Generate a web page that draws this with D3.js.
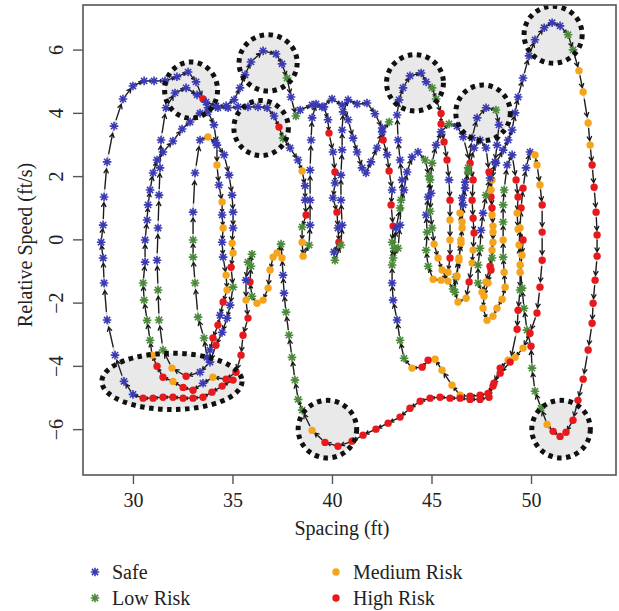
<!DOCTYPE html>
<html><head><meta charset="utf-8">
<script src="https://cdn.jsdelivr.net/npm/d3@7/dist/d3.min.js"></script>
<style>
html,body{margin:0;padding:0;background:#fff;}
svg text{font-family:"Liberation Serif","DejaVu Serif",serif;fill:#222;}
</style></head><body>
<svg id="chart" width="619" height="611"></svg>
<script>
// ---------- DATA ----------
const xTicks = [30, 35, 40, 45, 50];
const yTicks = [-6, -4, -2, 0, 2, 4, 6];
const riskCodes = ["S", "L", "M", "H"];
const riskNames = ["Safe", "Low Risk", "Medium Risk", "High Risk"];

const lap1Spacing = [
35.03,34.48,33.97,33.52,33.02,32.52,32.01,31.51,31.01,30.51,
30.00,29.55,29.10,28.70,28.55,28.50,28.40,28.50,28.55,28.70,
29.05,29.50,30.00,30.56,31.06,31.61,32.21,32.77,33.17,33.52,
33.77,34.27,34.78,35.28,35.78,36.28,36.74,37.09,37.34,37.54,
37.89,38.29,38.50,38.65,38.65,38.70,38.50,38.50,38.55,38.85,
38.90,38.90,38.90,38.95,39.00,39.20,39.60,39.80,39.85,40.05,
40.15,40.15,40.05,40.25,40.30,40.35,40.10,40.15,40.45,40.51,
40.45,40.45,40.51,40.51,40.56,40.81,41.26,41.76,42.16,42.52,
42.57,42.77,42.87,43.02,42.97,43.07,43.02,43.07,43.32,43.42,
43.47,43.52,43.42,43.32,43.27,43.37,43.57,43.92,44.48,44.73,
45.03,45.23,45.48,45.48,45.63,45.78,45.88,45.93,45.93,45.93,
45.93,45.83,45.48,45.08,44.83,44.73,44.78,44.73,44.83,44.93,
45.03,45.23,45.48,45.88,46.28,46.59,46.94,47.09,47.04,47.09,
47.14,47.09,47.04,46.89,46.74,46.33,46.18,46.23,46.38,46.48,
46.54,46.43,46.54,46.69,46.84,47.04,47.29,47.74,48.24,48.39,48.29,48.19,48.04,
47.99,48.04,48.09,48.04,47.94,47.74,47.54,47.34,47.34,47.44,
47.49,47.59,47.74,47.94,48.24,48.60,48.85,49.05,49.20,49.35,
49.60,49.90,50.20,50.66,51.06,51.46,51.86,52.11,52.41,52.62,
52.87,52.97,53.07,53.17,53.27,53.32,53.32,53.22,53.12,53.07,
52.87,52.62,52.36,52.11,51.76,51.46,51.11,50.81,50.51,50.20,
50.05,50.00,49.80,49.65,49.55,49.45,49.40,49.45,49.50,49.60,
49.75,49.95,50.20,50.30,50.45,50.56,50.56,50.56,50.45,50.30,
49.95,49.60,49.20,48.85,48.45,48.14,47.84,47.44,46.94,46.44,
46.03,45.53,45.18,44.83,44.53,44.02,43.62,43.42,43.27,43.07,
43.02,43.02];
const lap1Speed = [
-4.45,-4.64,-4.83,-4.99,-5.02,-5.02,-4.99,-4.99,-5.02,-5.02,
-4.90,-4.49,-3.66,-2.55,-1.38,-0.59,-0.09,0.45,1.34,2.45,
3.58,4.44,4.85,5.01,5.01,5.01,5.14,5.29,4.98,4.44,
4.16,4.16,4.16,4.19,4.19,4.19,4.16,3.90,3.55,3.20,
2.89,2.51,2.16,1.69,1.24,0.77,0.39,-0.09,-0.53,-0.18,
0.45,1.24,2.19,3.14,3.84,4.28,4.19,3.78,3.36,2.76,
2.13,1.78,1.31,0.86,0.36,-0.09,-0.40,-0.66,-0.18,0.45,
1.24,2.03,2.83,3.46,4.03,4.41,4.28,4.31,3.97,3.52,
3.14,2.67,2.16,1.56,1.09,0.42,-0.09,-0.59,-0.28,0.45,
1.24,1.88,2.51,3.14,3.93,4.41,4.79,5.17,5.26,4.98,
4.79,4.44,3.98,3.65,3.08,2.51,1.88,1.24,0.61,-0.02,
-0.59,-1.04,-1.29,-1.26,-0.85,-0.34,0.23,0.77,1.34,1.88,
2.41,2.98,3.40,3.65,3.58,3.24,2.41,1.88,1.24,0.67,
0.20,-0.34,-0.75,-1.35,-1.86,-1.98,-1.67,-1.19,-0.66,-0.12,
0.36,0.83,1.31,1.81,2.26,3.21,3.84,4.16,4.09,3.62,2.98,2.45,1.88,
1.34,0.77,0.23,-0.34,-0.85,-1.35,-1.67,-1.38,-0.81,-0.28,
0.29,0.83,1.40,1.94,2.41,2.82,3.14,3.46,4.00,4.50,
5.10,5.80,6.31,6.69,6.85,6.75,6.47,5.99,5.33,4.66,
3.68,2.98,2.35,1.65,0.86,0.14,-0.53,-1.29,-2.02,-2.65,
-3.50,-4.42,-5.09,-5.72,-6.10,-6.23,-6.07,-5.85,-5.34,-4.80,
-4.07,-3.38,-2.87,-2.18,-1.54,-0.81,-0.18,0.36,0.99,1.62,
2.26,2.76,2.67,2.35,1.72,1.09,0.23,-0.66,-1.51,-2.33,
-2.97,-3.44,-3.73,-3.82,-4.07,-4.55,-4.87,-4.93,-4.96,-4.93,
-4.61,-4.14,-3.79,-3.82,-4.04,-4.07,-3.76,-3.19,-2.55,-1.92,
-1.38,-0.81];
const lap1Risk = (
"HHHHHHHHHH"+"SSSSSSSSSS"+"SSSSSSSSSH"+"SSSSSSSSHL"+"SSMSSHLMML"+
"SSSSSSSSHS"+"HSSHSHSLLS"+"SSSSSSSSSS"+"HSHSHHLLLS"+"LSSSSSSSSS"+
"LLHHHHSHMM"+"HMMMLLLSSL"+"LSSLSSHHHH"+"HMMHMMLLMM"+"MMSSL"+"SSSLSSS"+"M"+
"HMMMHMMLLL"+"SSLSSSSSSS"+"SSSSSSLLMM"+"MMHHHHHHHH"+"HHHHHHHMLL"+
"LHLLLMMMHH"+"SSMMMHHHHH"+"HMMMHHHHHM"+"MMMHHMLLSS"+"SL").split("");

const lap2Spacing = [
43.12,43.22,43.42,43.62,43.77,44.02,44.32,44.68,44.88,44.98,
44.93,45.03,45.13,45.33,45.53,45.83,46.08,46.28,46.38,46.48,
46.54,46.59,46.69,46.84,47.14,47.44,47.74,47.89,47.99,48.04,
48.09,48.09,48.04,47.99,47.84,47.64,47.59,47.79,48.09,48.29,
48.55,48.70,48.65,48.60,48.60,48.60,48.60,48.65,48.80,49.05,
49.25,49.35,49.30,49.35,49.60,49.55,49.45,49.45,49.35,49.30,
48.95,48.45,48.09,47.89,47.44,46.94,46.44,45.93,45.43,44.93,
44.43,43.92,43.42,42.82,42.21,41.56,41.01,40.30,39.65,39.00,
38.50,38.30,38.14,37.99,37.84,37.69,37.59,37.54,37.49,37.44,
37.24,37.04,36.89,36.79,36.54,36.23,35.98,35.88,35.93,35.98,
35.78,35.68,35.68,35.78,35.53,35.43,35.18,34.68];
const lap2Speed = [
-0.28,0.36,0.99,1.56,2.13,2.60,2.76,2.51,2.00,1.46,
0.89,0.36,-0.15,-0.59,-0.97,-1.32,-1.57,-1.16,-0.59,-0.02,
0.55,1.09,1.62,2.13,2.89,3.14,2.89,2.13,1.56,0.99,
0.42,-0.09,-0.59,-0.97,-1.38,-1.80,-2.18,-2.56,-2.43,-2.18,
-1.89,-1.51,-1.04,-0.56,-0.02,0.55,1.09,1.56,2.35,2.67,
1.88,1.34,0.83,0.32,-0.02,-0.50,-1.04,-1.60,-2.24,-2.84,
-3.88,-4.23,-4.64,-4.99,-5.06,-5.06,-5.02,-5.02,-4.99,-5.02,
-5.12,-5.34,-5.62,-5.81,-6.00,-6.19,-6.38,-6.54,-6.42,-6.04,
-5.40,-5.06,-4.45,-3.73,-3.03,-2.30,-1.70,-1.13,-0.59,-0.15,
-0.43,-0.56,-0.97,-1.54,-1.92,-2.02,-1.80,-1.35,-0.85,-0.47,
-0.72,-1.29,-1.92,-2.49,-3.03,-3.66,-4.20,-4.42];
const lap2Risk = (
"LSLSSSSLLS"+"LLMMMMLMMM"+"MSSLSSSHMH"+"MMLHMMMMMM"+"MMMLMLLLSS"+
"HHMMHMMLHH"+"HHHHHHHHHH"+"HHHHHHHHHM"+"LLLLLLSSML"+"MMMMMMLHLL"+
"LSMHHHHH").split("");

const lap3Spacing = [
34.02,33.52,33.02,32.52,32.01,31.51,31.21,30.96,30.86,30.71,
30.56,30.51,30.61,30.61,30.71,30.76,30.86,31.01,31.21,31.51,
32.01,32.47,32.87,33.37,33.77,34.07,34.22,34.22,34.32,34.48,
34.48,34.53,34.48,34.53,34.68,34.73,34.53,34.38,34.27,34.02,
33.87,33.72,33.57,33.27,33.12,33.02,33.02,33.02,33.12,33.37,
33.77,34.17,34.58,34.83,34.98,35.03,35.03,34.98,35.03,34.93,
35.03,34.88,34.73,34.48,34.17,33.87];
const lap3Speed = [
-4.36,-4.55,-4.77,-4.68,-4.49,-4.36,-4.01,-3.66,-3.19,-2.56,
-1.92,-1.38,-0.72,-0.02,0.61,1.09,1.56,2.10,2.51,2.76,
3.11,3.49,3.71,3.99,4.03,3.62,2.98,2.35,1.72,1.18,
0.77,0.36,-0.09,-0.56,-1.13,-1.60,-1.98,-2.40,-2.71,-3.12,
-3.50,-3.73,-3.12,-2.46,-1.38,-0.56,-0.02,0.86,2.10,3.14,
3.24,3.05,2.67,2.03,1.40,0.86,0.36,-0.12,-0.43,-0.88,
-1.51,-2.08,-2.49,-2.94,-3.35,-3.88];
const lap3Risk = (
"MSHHMHHMLL"+"LLSSSSSSSS"+"SSSSSSSMSM"+"SMSSMMHSHH"+"SSLLLLLSSS"+
"MSSSSSSMMH"+"LSSSHS").split("");

const lap4Spacing = [
33.37,32.67,31.96,31.51,31.31,31.26,31.21,31.26,31.31,31.36,
31.41,31.66,32.11,32.67,33.22,33.67,34.17,34.68,35.08,35.38,
35.63,35.93,36.54,37.19,37.49,37.74,37.94,38.19,38.40,39.00,
39.50,40.00,40.51,40.81,41.06,41.26,41.51,41.71,41.96,42.26,
42.52,42.87];
const lap4Speed = [
-4.20,-4.33,-4.07,-3.50,-2.55,-1.60,-0.66,0.36,1.40,2.26,
3.14,4.16,4.63,4.79,4.57,4.34,4.22,4.22,4.41,4.79,
5.20,5.61,5.96,5.86,5.55,5.10,4.50,3.90,4.09,4.25,
4.19,4.44,4.25,3.78,3.20,2.76,2.26,2.10,2.45,2.89,
3.40,3.71];
const lap4Risk = ("SHMLLLSSSS"+"SSSSSSSSSS"+"SSSSSLSLS"+"SSSSSSSSSSSSL").split("");

// highlighted regions (centre and radius in data units)
const hlSpacing = [32.92, 36.79, 36.44, 44.17, 47.59, 51.11, 31.96, 39.77, 51.51];
const hlSpeed   = [4.72, 5.58, 3.52, 4.95, 4.00, 6.47, -4.49, -6.00, -6.00];
const hlRadiusFt    = [1.33, 1.46, 1.37, 1.43, 1.37, 1.46, 3.52, 1.47, 1.47];
const hlRadiusSpeed = [0.89, 0.89, 0.87, 0.89, 0.88, 0.90, 0.89, 0.91, 0.91];

// ---------- DRAW ----------
const plot = {left: 83, right: 616, top: 5, bottom: 475};
const x = d3.scaleLinear().domain([27.49, 54.27]).range([plot.left, plot.right]);
const y = d3.scaleLinear().domain([-7.45, 7.41]).range([plot.bottom, plot.top]);
const color = {S: "#3a3ab4", L: "#4a8a3a", M: "#f5a51c", H: "#e8191c"};

const pts = [];
[[lap1Spacing, lap1Speed, lap1Risk], [lap2Spacing, lap2Speed, lap2Risk],
 [lap3Spacing, lap3Speed, lap3Risk], [lap4Spacing, lap4Speed, lap4Risk]]
  .forEach(([sx, sy, rk]) => sx.forEach((v, i) => pts.push({x: v, y: sy[i], r: rk[i]})));

const svg = d3.select("#chart");
svg.append("rect").attr("width", 619).attr("height", 611).attr("fill", "#fff");
svg.append("defs").append("clipPath").attr("id", "clip").append("rect")
  .attr("x", plot.left).attr("y", plot.top)
  .attr("width", plot.right - plot.left).attr("height", plot.bottom - plot.top);

const g = svg.append("g").attr("clip-path", "url(#clip)");
const hl = hlSpacing.map((v, i) => ({x: v, y: hlSpeed[i], rx: hlRadiusFt[i], ry: hlRadiusSpeed[i]}));

g.selectAll("ellipse.hlfill").data(hl).join("ellipse").attr("class", "hlfill")
  .attr("cx", d => x(d.x)).attr("cy", d => y(d.y))
  .attr("rx", d => x(d.x + d.rx) - x(d.x)).attr("ry", d => y(d.y - d.ry) - y(d.y))
  .attr("fill", "#e9e9e9");

g.append("path").datum(pts)
  .attr("d", d3.line().x(d => x(d.x)).y(d => y(d.y)))
  .attr("fill", "none").attr("stroke", "#d2d2d2").attr("stroke-width", 1.6);

// arrows between consecutive observations
let arrowD = "";
for (let i = 0; i < pts.length - 1; i++) {
  const x0 = x(pts[i].x), y0 = y(pts[i].y), x1 = x(pts[i + 1].x), y1 = y(pts[i + 1].y);
  const dx = x1 - x0, dy = y1 - y0, len = Math.hypot(dx, dy);
  if (len < 8) continue;
  const sx = x0 + dx * 0.22, sy = y0 + dy * 0.22, ex = x0 + dx * 0.8, ey = y0 + dy * 0.8;
  const th = Math.atan2(dy, dx), h = Math.min(5, len * 0.3);
  const a1 = th + Math.PI - 0.5, a2 = th + Math.PI + 0.5;
  arrowD += `M${sx},${sy}L${ex},${ey}M${ex + h * Math.cos(a1)},${ey + h * Math.sin(a1)}L${ex},${ey}L${ex + h * Math.cos(a2)},${ey + h * Math.sin(a2)}`;
}
g.append("path").attr("d", arrowD).attr("fill", "none").attr("stroke", "#1c1c1c")
  .attr("stroke-width", 1.3).attr("stroke-linejoin", "miter");

const s = 4.3, dd = s * 0.72;
const star = `M${-s},0H${s}M0,${-s}V${s}M${-dd},${-dd}L${dd},${dd}M${-dd},${dd}L${dd},${-dd}`;
function drawMarker(sel, code) {
  if (code === "S" || code === "L") {
    sel.append("path").attr("d", star).attr("fill", "none").attr("stroke", color[code]).attr("stroke-width", 1.6);
  } else {
    sel.append("circle").attr("r", 3.7).attr("fill", color[code]);
  }
}
const mg = g.append("g");
pts.forEach(p => {
  const m = mg.append("g").attr("transform", `translate(${x(p.x)},${y(p.y)})`);
  drawMarker(m, p.r);
});

g.selectAll("ellipse.hlline").data(hl).join("ellipse").attr("class", "hlline")
  .attr("cx", d => x(d.x)).attr("cy", d => y(d.y))
  .attr("rx", d => x(d.x + d.rx) - x(d.x)).attr("ry", d => y(d.y - d.ry) - y(d.y))
  .attr("fill", "none").attr("stroke", "#111").attr("stroke-width", 5)
  .attr("stroke-dasharray", "4.5 4.5");

// frame
svg.append("rect").attr("x", plot.left).attr("y", plot.top)
  .attr("width", plot.right - plot.left).attr("height", plot.bottom - plot.top)
  .attr("fill", "none").attr("stroke", "#555").attr("stroke-width", 1.6);

// axes
const fmt = d3.format("d");
const xa = svg.append("g").attr("transform", `translate(0,${plot.bottom})`)
  .call(d3.axisBottom(x).tickValues(xTicks).tickSize(9).tickPadding(9).tickFormat(fmt));
xa.select(".domain").remove();
xa.selectAll("line").attr("stroke", "#555").attr("stroke-width", 1.4);
xa.selectAll("text").attr("font-size", 20).attr("font-family", "Liberation Serif, serif");

const ya = svg.append("g").attr("transform", `translate(${plot.left},0)`)
  .call(d3.axisLeft(y).tickValues(yTicks).tickSize(10).tickFormat(fmt));
ya.select(".domain").remove();
ya.selectAll("line").attr("stroke", "#555").attr("stroke-width", 1.4);
ya.selectAll("text").attr("x", 0).attr("dy", 0).attr("text-anchor", "middle")
  .attr("transform", "translate(-20,0) rotate(-90)")
  .attr("font-size", 20).attr("font-family", "Liberation Serif, serif");

svg.append("text").attr("x", 342).attr("y", 535).attr("text-anchor", "middle")
  .attr("font-size", 20).text("Spacing (ft)");
svg.append("text").attr("transform", "translate(32,245) rotate(-90)").attr("text-anchor", "middle")
  .attr("font-size", 20).text("Relative Speed (ft/s)");

// legend
const legX = [95, 95, 336, 336], legY = [572, 598, 572, 598];
riskCodes.forEach((c, i) => {
  const lg = svg.append("g").attr("transform", `translate(${legX[i]},${legY[i]})`);
  drawMarker(lg, c);
  lg.append("text").attr("x", 17).attr("y", 7).attr("font-size", 20).text(riskNames[i]);
});
</script>
</body></html>
